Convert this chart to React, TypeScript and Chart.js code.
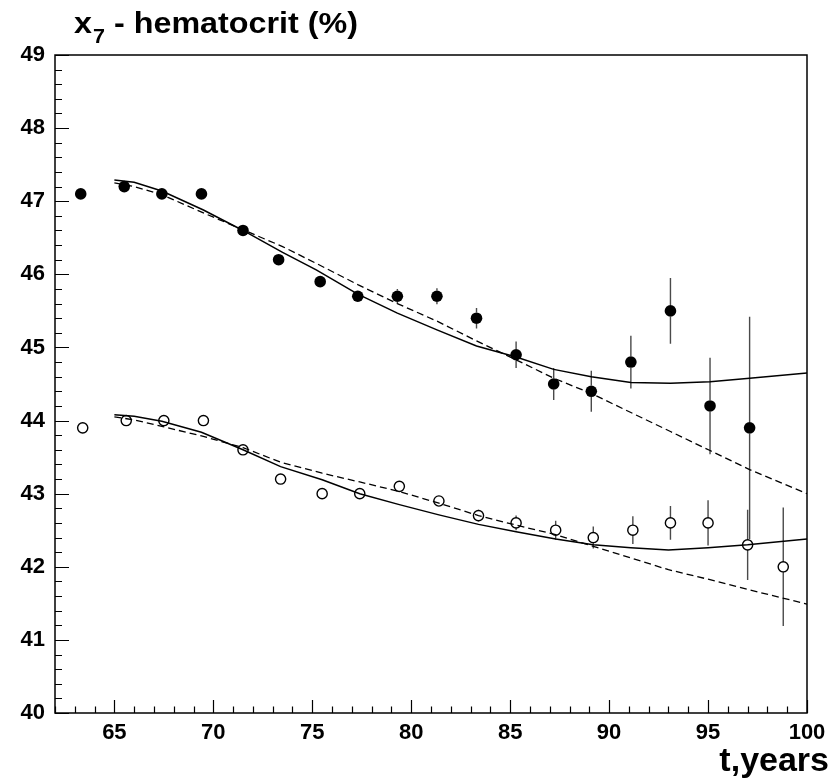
import React, { useEffect, useRef } from 'react';
import { Chart, registerables } from 'chart.js';

Chart.register(...registerables);

// ---- data ----
const maleAges = [63.3, 65.5, 67.4, 69.4, 71.5, 73.3, 75.4, 77.3, 79.3, 81.3, 83.3, 85.3, 87.2, 89.1, 91.1, 93.1, 95.1, 97.1];
const maleHct = [47.1, 47.2, 47.1, 47.1, 46.6, 46.2, 45.9, 45.7, 45.7, 45.7, 45.4, 44.9, 44.5, 44.4, 44.8, 45.5, 44.2, 43.9];
const maleErr = [0.03, 0.03, 0.03, 0.04, 0.04, 0.05, 0.06, 0.08, 0.1, 0.11, 0.14, 0.18, 0.22, 0.28, 0.36, 0.45, 0.66, 1.52];

const femaleAges = [63.4, 65.6, 67.5, 69.5, 71.5, 73.4, 75.5, 77.4, 79.4, 81.4, 83.4, 85.3, 87.3, 89.2, 91.2, 93.1, 95.0, 97.0, 98.8];
const femaleHct = [43.9, 44.0, 44.0, 44.0, 43.6, 43.2, 43.0, 43.0, 43.1, 42.9, 42.7, 42.6, 42.5, 42.4, 42.5, 42.6, 42.6, 42.3, 42.0];
const femaleErr = [0.03, 0.03, 0.03, 0.03, 0.03, 0.04, 0.04, 0.05, 0.05, 0.06, 0.08, 0.1, 0.13, 0.15, 0.19, 0.23, 0.31, 0.48, 0.81];

const upperCurveT = [65, 66, 67.4, 69.5, 71.5, 73.5, 75.2, 77.3, 79.3, 81.3, 83.3, 85.3, 87.2, 89.1, 91.1, 93.1, 95.1, 97.1, 100];
const upperSolid = [47.29, 47.26, 47.14, 46.88, 46.6, 46.3, 46.06, 45.73, 45.47, 45.24, 45.02, 44.87, 44.7, 44.6, 44.52, 44.51, 44.53, 44.58, 44.65];
const upperDashed = [47.25, 47.2, 47.09, 46.84, 46.61, 46.38, 46.15, 45.86, 45.6, 45.36, 45.09, 44.83, 44.58, 44.37, 44.11, 43.85, 43.59, 43.33, 43.0];

const lowerCurveT = [65, 66, 67.4, 69.4, 71.5, 73.4, 75.5, 77.4, 79.4, 81.4, 83.4, 85.3, 87.3, 89.2, 91.1, 93.0, 95.0, 97.0, 100];
const lowerSolid = [44.08, 44.06, 43.99, 43.84, 43.6, 43.37, 43.19, 43.0, 42.85, 42.71, 42.58, 42.48, 42.38, 42.3, 42.26, 42.23, 42.26, 42.3, 42.38];
const lowerDashed = [44.05, 44.01, 43.92, 43.79, 43.63, 43.43, 43.28, 43.16, 43.03, 42.87, 42.7, 42.57, 42.44, 42.28, 42.12, 41.96, 41.83, 41.69, 41.49];

const xTickLabels = [65, 70, 75, 80, 85, 90, 95, 100];
const yTickLabels = [40, 41, 42, 43, 44, 45, 46, 47, 48, 49];
const X_MIN = 62;
const X_MAX = 100;
const Y_MIN = 40;
const Y_MAX = 49;

const FILLED_R = 5.8;
const OPEN_R = 5.1;

const FONT = '"Liberation Sans", Arial, Helvetica, sans-serif';

const toPts = (xs: number[], ys: number[]) => xs.map((x, i) => ({ x, y: ys[i] }));

const errorBarPlugin = {
  id: 'errorBars',
  beforeDatasetsDraw(chart: any) {
    const { ctx } = chart;
    const xs = chart.scales.x;
    const ys = chart.scales.y;
    ctx.save();
    ctx.strokeStyle = '#4a4a4a';
    ctx.lineWidth = 1.4;
    const draw = (ages: number[], vals: number[], errs: number[], gap: number) => {
      ages.forEach((a, i) => {
        const px = xs.getPixelForValue(a);
        const pc = ys.getPixelForValue(vals[i]);
        const pTop = ys.getPixelForValue(vals[i] + errs[i]);
        const pBot = ys.getPixelForValue(vals[i] - errs[i]);
        ctx.beginPath();
        if (pc - pTop > gap) {
          ctx.moveTo(px, pTop);
          ctx.lineTo(px, pc - gap);
        }
        if (pBot - pc > gap) {
          ctx.moveTo(px, pc + gap);
          ctx.lineTo(px, pBot);
        }
        ctx.stroke();
      });
    };
    draw(maleAges, maleHct, maleErr, FILLED_R);
    draw(femaleAges, femaleHct, femaleErr, OPEN_R);
    ctx.restore();
  },
};

const framePlugin = {
  id: 'frameTicks',
  afterDraw(chart: any) {
    const { ctx, chartArea } = chart;
    const xs = chart.scales.x;
    const ys = chart.scales.y;
    const { left, right, top, bottom } = chartArea;
    ctx.save();
    ctx.strokeStyle = '#000';
    ctx.lineWidth = 1.5;
    ctx.strokeRect(left, top, right - left, bottom - top);
    ctx.lineWidth = 1.2;
    ctx.beginPath();
    for (let t = X_MIN; t <= X_MAX; t++) {
      const px = Math.round(xs.getPixelForValue(t)) + 0.5;
      const len = t % 5 === 0 ? 13 : 6.5;
      ctx.moveTo(px, bottom);
      ctx.lineTo(px, bottom - len);
    }
    for (let k = 0; k <= (Y_MAX - Y_MIN) * 5; k++) {
      const v = Y_MIN + k * 0.2;
      const py = Math.round(ys.getPixelForValue(v)) + 0.5;
      const len = k % 5 === 0 ? 14 : 7;
      ctx.moveTo(left, py);
      ctx.lineTo(left + len, py);
    }
    ctx.stroke();

    // title: x_7 - hematocrit (%)
    ctx.fillStyle = '#000';
    ctx.textBaseline = 'alphabetic';
    ctx.textAlign = 'left';
    const big = `bold 30px ${FONT}`;
    const small = `bold 20px ${FONT}`;
    ctx.font = big;
    const wx = ctx.measureText('x').width;
    const wRest = ctx.measureText(' - hematocrit (%)').width;
    ctx.font = small;
    const w7 = ctx.measureText('7').width;
    const total = wx + 1 + w7 + wRest;
    const sx = 284 / total;
    ctx.translate(74, 0);
    ctx.scale(sx, 1);
    ctx.font = big;
    ctx.fillText('x', 0, 33);
    ctx.font = small;
    ctx.fillText('7', wx + 1, 43);
    ctx.font = big;
    ctx.fillText(' - hematocrit (%)', wx + 1 + w7, 33);
    ctx.setTransform(1, 0, 0, 1, 0, 0);

    // x-axis title
    ctx.textAlign = 'right';
    ctx.font = `bold 34px ${FONT}`;
    ctx.fillText('t,years', 829, 771);
    ctx.restore();
  },
};

export default function App() {
  const ref = useRef<HTMLCanvasElement | null>(null);

  useEffect(() => {
    if (!ref.current) return;
    const tickFont = { family: FONT, size: 22, weight: 'bold' as const };
    const chart = new Chart(ref.current, {
      type: 'scatter',
      data: {
        datasets: [
          {
            label: 'upper model',
            data: toPts(upperCurveT, upperSolid),
            showLine: true,
            borderColor: '#000',
            borderWidth: 1.5,
            pointRadius: 0,
            tension: 0,
          },
          {
            label: 'upper model 2',
            data: toPts(upperCurveT, upperDashed),
            showLine: true,
            borderColor: '#000',
            borderWidth: 1.3,
            borderDash: [7, 4],
            pointRadius: 0,
            tension: 0,
          },
          {
            label: 'lower model',
            data: toPts(lowerCurveT, lowerSolid),
            showLine: true,
            borderColor: '#000',
            borderWidth: 1.5,
            pointRadius: 0,
            tension: 0,
          },
          {
            label: 'lower model 2',
            data: toPts(lowerCurveT, lowerDashed),
            showLine: true,
            borderColor: '#000',
            borderWidth: 1.3,
            borderDash: [7, 4],
            pointRadius: 0,
            tension: 0,
          },
          {
            label: 'filled',
            data: toPts(maleAges, maleHct),
            pointRadius: FILLED_R,
            pointBackgroundColor: '#000',
            pointBorderColor: '#000',
            pointBorderWidth: 0,
            showLine: false,
          },
          {
            label: 'open',
            data: toPts(femaleAges, femaleHct),
            pointRadius: OPEN_R,
            pointBackgroundColor: 'rgba(0,0,0,0)',
            pointBorderColor: '#000',
            pointBorderWidth: 1.4,
            showLine: false,
          },
        ],
      },
      options: {
        animation: false,
        responsive: false,
        devicePixelRatio: 1,
        layout: { padding: { top: 55, right: 32, left: 0, bottom: 0 } },
        plugins: {
          legend: { display: false },
          tooltip: { enabled: false },
          title: { display: false },
        },
        events: [],
        scales: {
          x: {
            type: 'linear',
            min: X_MIN,
            max: X_MAX,
            afterBuildTicks: (s: any) => {
              s.ticks = xTickLabels.map((v) => ({ value: v }));
            },
            afterFit: (s: any) => {
              s.height = 66;
            },
            ticks: {
              autoSkip: false,
              maxRotation: 0,
              color: '#000',
              font: tickFont,
              padding: 7,
              callback: (v: any) => String(v),
            },
            grid: { display: false, drawTicks: false },
            border: { display: false },
          },
          y: {
            type: 'linear',
            min: Y_MIN,
            max: Y_MAX,
            afterBuildTicks: (s: any) => {
              s.ticks = yTickLabels.map((v) => ({ value: v }));
            },
            afterFit: (s: any) => {
              s.width = 55;
            },
            ticks: {
              autoSkip: false,
              color: '#000',
              font: tickFont,
              padding: 10,
              callback: (v: any) => String(v),
            },
            grid: { display: false, drawTicks: false },
            border: { display: false },
          },
        },
      },
      plugins: [errorBarPlugin, framePlugin],
    });
    return () => chart.destroy();
  }, []);

  return (
    <div style={{ position: 'absolute', left: 0, top: 0, width: 839, height: 779, background: '#fff' }}>
      <canvas ref={ref} width={839} height={779} style={{ display: 'block', width: 839, height: 779 }} />
    </div>
  );
}
